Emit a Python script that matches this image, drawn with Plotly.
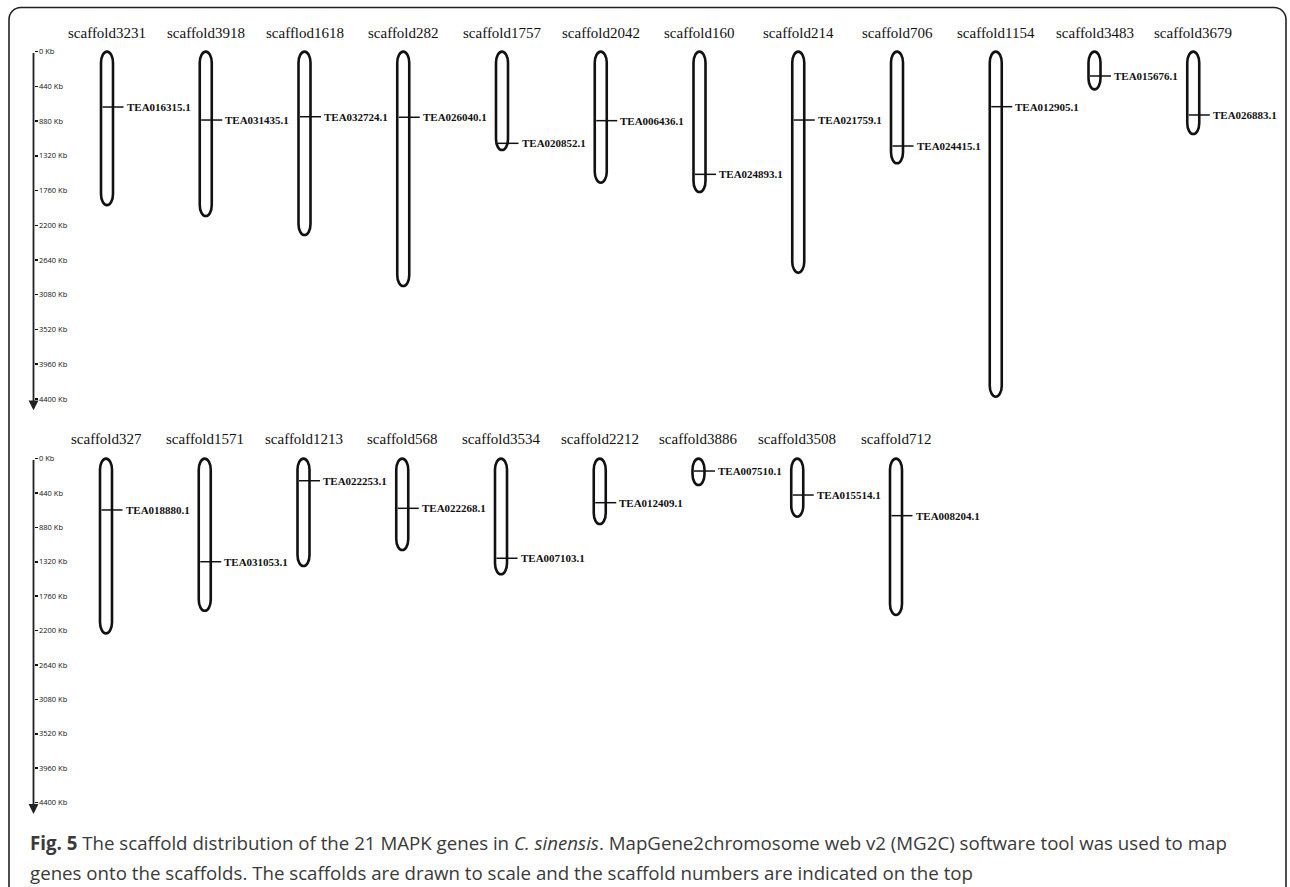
import plotly.graph_objects as go

# ---------------- data ----------------
top_names = ["scaffold3231", "scaffold3918", "scafflod1618", "scaffold282", "scaffold1757",
             "scaffold2042", "scaffold160", "scaffold214", "scaffold706", "scaffold1154",
             "scaffold3483", "scaffold3679"]
top_lengths_kb = [1945, 2083, 2324, 2970, 1247, 1661, 1779, 2801, 1415, 4372, 478, 1044]
top_genes = ["TEA016315.1", "TEA031435.1", "TEA032724.1", "TEA026040.1", "TEA020852.1",
             "TEA006436.1", "TEA024893.1", "TEA021759.1", "TEA024415.1", "TEA012905.1",
             "TEA015676.1", "TEA026883.1"]
top_gene_pos_kb = [702, 867, 825, 832, 1162, 875, 1555, 867, 1196, 698, 309, 803]

bottom_names = ["scaffold327", "scaffold1571", "scaffold1213", "scaffold568", "scaffold3534",
                "scaffold2212", "scaffold3886", "scaffold3508", "scaffold712"]
bottom_lengths_kb = [2235, 1946, 1374, 1169, 1480, 837, 338, 743, 2000]
bottom_genes = ["TEA018880.1", "TEA031053.1", "TEA022253.1", "TEA022268.1", "TEA007103.1",
                "TEA012409.1", "TEA007510.1", "TEA015514.1", "TEA008204.1"]
bottom_gene_pos_kb = [657, 1319, 283, 636, 1275, 564, 159, 466, 730]

ruler_ticks_kb = [0, 440, 880, 1320, 1760, 2200, 2640, 3080, 3520, 3960, 4400]
ruler_labels = [f"{v} Kb" for v in ruler_ticks_kb]
ruler_end_kb = 4545

caption_line1 = ("<b>Fig. 5</b> The scaffold distribution of the 21 MAPK genes in <i>C. sinensis</i>. "
                 "MapGene2chromosome web v2 (MG2C) software tool was used to map")
caption_line2 = ("genes onto the scaffolds. The scaffolds are drawn to scale and the scaffold "
                 "numbers are indicated on the top")

# ---------------- geometry / style ----------------
W, H = 1290, 887
SERIF = "Liberation Serif, Times New Roman, serif"
SANS = "Open Sans, Noto Sans, sans-serif"

panels = [
    dict(names=top_names, lengths=top_lengths_kb, genes=top_genes, pos=top_gene_pos_kb,
         zero=51.6, ppk=0.07893, dom=(40, 425), x0=107.0, tshift=19, xa="x", ya="y"),
    dict(names=bottom_names, lengths=bottom_lengths_kb, genes=bottom_genes, pos=bottom_gene_pos_kb,
         zero=458.6, ppk=0.07818, dom=(438, 832), x0=106.0, tshift=20, xa="x2", ya="y2"),
]
SPACING = 98.75
HALF_W = 6.0
CAP_PX = 11.0
RULER_X = 33.5 / W

fig = go.Figure()
shapes = []
annotations = []


def capsule_path(L, cap):
    k = 0.5523
    h = min(cap, L / 2.0)
    w = HALF_W
    return (f"M {-w},{h} C {-w},{h - k * h} {-k * w},0 0,0 "
            f"C {k * w},0 {w},{h - k * h} {w},{h} "
            f"L {w},{L - h} "
            f"C {w},{L - h + k * h} {k * w},{L} 0,{L} "
            f"C {-k * w},{L} {-w},{L - h + k * h} {-w},{L - h} Z")


for pi, p in enumerate(panels):
    n = len(p["names"])
    idx = list(range(n))
    xa, ya = p["xa"], p["ya"]
    xaxis_key = "xaxis" if xa == "x" else "xaxis2"
    yaxis_key = "yaxis" if ya == "y" else "yaxis2"

    fig.add_trace(go.Scatter(x=idx, y=p["lengths"], xaxis=xa, yaxis=ya, mode="markers",
                             marker=dict(opacity=0), hoverinfo="skip", showlegend=False))

    xr = [(0 - p["x0"]) / SPACING, (W - p["x0"]) / SPACING]
    top_px, bot_px = p["dom"]
    yr_top = (top_px - p["zero"]) / p["ppk"]
    yr_bot = (bot_px - p["zero"]) / p["ppk"]
    fig.layout[xaxis_key] = dict(domain=[0, 1], range=xr, visible=False, anchor=ya,
                                 showgrid=False, zeroline=False, fixedrange=True)
    fig.layout[yaxis_key] = dict(domain=[1 - bot_px / H, 1 - top_px / H], range=[yr_bot, yr_top],
                                 anchor="free", position=RULER_X, side="right",
                                 showgrid=False, zeroline=False, showline=False,
                                 tickmode="array", tickvals=ruler_ticks_kb, ticktext=ruler_labels,
                                 ticks="outside", ticklen=3, tickwidth=1.5, tickcolor="#111",
                                 tickfont=dict(family=SANS, size=7.5, color="#111"),
                                 fixedrange=True)

    cap_kb = CAP_PX / p["ppk"]

    annotations.append(dict(x=RULER_X, xref="paper", y=ruler_end_kb, yref=ya,
                            ax=0, axref="pixel", ay=0, ayref=ya, showarrow=True,
                            arrowhead=2, arrowsize=1.1, arrowwidth=1.8, arrowcolor="#222", text=""))

    for i in idx:
        L = p["lengths"][i]
        shapes.append(dict(type="path", xref=xa, yref=ya, xsizemode="pixel", xanchor=i,
                           path=capsule_path(L, cap_kb),
                           line=dict(color="#111", width=2.6), fillcolor="white", layer="above"))
        g = p["pos"][i]
        shapes.append(dict(type="line", xref=xa, yref=ya, xsizemode="pixel", xanchor=i,
                           x0=-4.5, x1=16.5, y0=g, y1=g,
                           line=dict(color="#111", width=1.5), layer="above"))
        annotations.append(dict(x=i, y=g, xref=xa, yref=ya, text=p["genes"][i], showarrow=False,
                                xanchor="left", yanchor="middle", xshift=17.5,
                                font=dict(family=SERIF, size=11, color="#111", weight="bold")))
        annotations.append(dict(x=i, y=0, xref=xa, yref=ya, text=p["names"][i], showarrow=False,
                                xanchor="center", yanchor="middle", yshift=p["tshift"],
                                font=dict(family=SERIF, size=15, color="#111")))


def px(x):
    return x / W


def py(y):
    return 1 - y / H


L_, R_, T_, B_ = 9.0, 1286.0, 7.5, 905.0
r = 12.0
k = 0.5523
frame = (f"M {px(L_)},{py(B_)} L {px(L_)},{py(T_ + r)} "
         f"C {px(L_)},{py(T_ + r - k * r)} {px(L_ + r - k * r)},{py(T_)} {px(L_ + r)},{py(T_)} "
         f"L {px(R_ - r)},{py(T_)} "
         f"C {px(R_ - r + k * r)},{py(T_)} {px(R_)},{py(T_ + r - k * r)} {px(R_)},{py(T_ + r)} "
         f"L {px(R_)},{py(B_)}")
shapes.append(dict(type="path", xref="paper", yref="paper", path=frame,
                   line=dict(color="#222", width=1.6)))

annotations.append(dict(x=28 / W, y=1 - 842 / H, xref="paper", yref="paper", text=caption_line1,
                        showarrow=False, xanchor="left", yanchor="middle",
                        font=dict(family=SANS, size=18.7, color="#3a3a3a")))
annotations.append(dict(x=28 / W, y=1 - 872 / H, xref="paper", yref="paper", text=caption_line2,
                        showarrow=False, xanchor="left", yanchor="middle",
                        font=dict(family=SANS, size=18.7, color="#3a3a3a")))

fig.update_layout(width=W, height=H, margin=dict(l=0, r=0, t=0, b=0),
                  paper_bgcolor="white", plot_bgcolor="white",
                  shapes=shapes, annotations=annotations, showlegend=False)

fig.write_html("out.html", config={"displayModeBar": False, "staticPlot": True},
               post_script="document.body.style.margin='0px';document.body.style.overflow='hidden';")
